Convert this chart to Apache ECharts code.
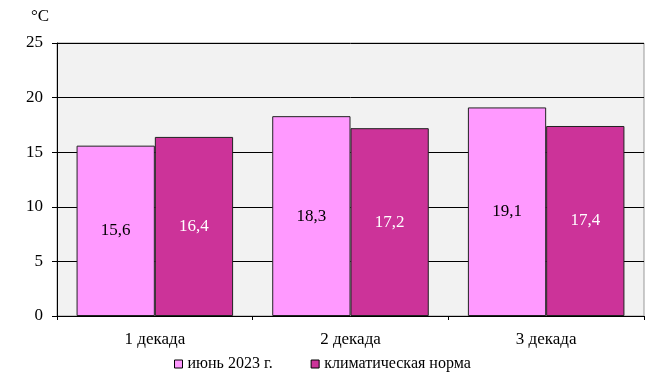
<!DOCTYPE html>
<html><head><meta charset="utf-8">
<script src="https://cdn.jsdelivr.net/npm/echarts@6/dist/echarts.min.js"></script>
<style>html,body{margin:0;padding:0;background:#fff}#c{width:649px;height:372px}</style>
</head><body><div id="c"></div>
<script>
var categories = ['1 декада', '2 декада', '3 декада'];
var seriesNames = ['июнь 2023 г.', 'климатическая норма'];
var june2023 = [15.6, 18.3, 19.1];
var climateNorm = [16.4, 17.2, 17.4];
var yTicks = [0, 5, 10, 15, 20, 25];

var font = 'Liberation Serif, Times New Roman, serif';
var chart = echarts.init(document.getElementById('c'));
function lbl(v){ return String(v).replace('.', ','); }
chart.setOption({
  animation: false,
  textStyle: {fontFamily: font},
  title: {text: '°C', left: 26, top: 3, textStyle: {fontFamily: font, fontSize: 17, fontWeight: 'normal', color: '#000'}},
  grid: {left: 57, right: 5, top: 43, bottom: 56, show: true, backgroundColor: '#f2f2f2', borderColor: '#999', borderWidth: 1},
  legend: {
    top: 351, left: 169, itemWidth: 8, itemHeight: 8, itemGap: 38,
    textStyle: {fontFamily: font, fontSize: 16, color: '#000'},
    data: seriesNames.map(function(n){ return {name: n, icon: 'rect', itemStyle: {borderColor: '#000', borderWidth: 1}}; })
  },
  xAxis: {
    type: 'category', data: categories,
    axisLine: {lineStyle: {color: '#000', width: 1}},
    axisTick: {show: true, length: 4, lineStyle: {color: '#000'}},
    axisLabel: {fontFamily: font, fontSize: 17, color: '#000', margin: 15}
  },
  yAxis: {
    type: 'value', min: yTicks[0], max: yTicks[yTicks.length - 1], interval: 5,
    axisLine: {show: true, lineStyle: {color: '#000', width: 1}},
    axisTick: {show: true, length: 5, lineStyle: {color: '#000'}},
    axisLabel: {fontFamily: font, fontSize: 17, color: '#000', margin: 14},
    splitLine: {show: true, lineStyle: {color: '#000', width: 1}}
  },
  series: [
    {name: seriesNames[0], type: 'bar', data: june2023, barGap: '0%', barCategoryGap: '20%',
     itemStyle: {color: '#ff99ff', borderColor: '#222', borderWidth: 1},
     label: {show: true, position: 'inside', fontFamily: font, fontSize: 17, color: '#000', formatter: function(p){ return lbl(p.value); }}},
    {name: seriesNames[1], type: 'bar', data: climateNorm,
     itemStyle: {color: '#cc3399', borderColor: '#222', borderWidth: 1},
     label: {show: true, position: 'inside', fontFamily: font, fontSize: 17, color: '#fff', formatter: function(p){ return lbl(p.value); }}}
  ]
});
</script></body></html>
